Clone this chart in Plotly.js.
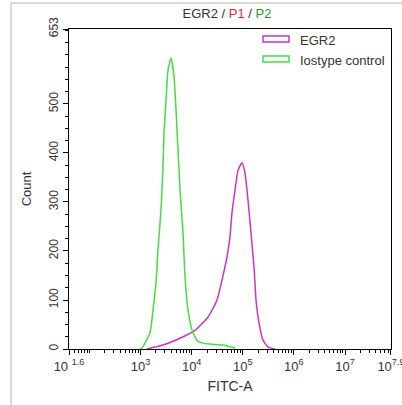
<!DOCTYPE html>
<html><head><meta charset="utf-8">
<script src="https://cdn.plot.ly/plotly-3.0.1.min.js"></script>
<style>html,body{margin:0;padding:0;background:#fff;}#plot{width:402px;height:405px;}</style>
</head><body><div id="plot"></div>
<script>
// Log10 of FITC-A and counts
const greenLog = [2.989,3.022,3.185,3.244,3.302,3.341,3.400,3.439,3.459,3.498,3.537,3.596,3.655,3.694,3.733,3.772,3.830,3.870,3.928,4.007,4.104,4.222,4.359,4.613,4.848];
const greenCount = [0,1,33,80,135,202,284,371,441,508,569,594,555,488,406,324,237,147,80,39,18,12,10,8,2];
const egrLog = [3.126,3.439,3.772,4.065,4.320,4.496,4.594,4.691,4.750,4.789,4.848,4.907,4.985,5.044,5.102,5.161,5.220,5.259,5.318,5.396,5.494,5.631];
const egrCount = [0,8,22,38,65,100,141,188,229,278,324,365,380,359,304,237,167,100,53,18,4,0];
const xTickExp = [1.6,3,4,5,6,7,7.899];
const xTickText = ['10 <sup>1.6</sup>','10<sup>3</sup>','10<sup>4</sup>','10<sup>5</sup>','10<sup>6</sup>','10<sup>7</sup>','10<sup>7.9</sup>'];
const yTicks = [0,100,200,300,400,500,653];
const legendNames = ['EGR2','Iostype control'];
const magenta = '#cc33cc', green = '#44dd44';

const toX = a => a.map(v => Math.pow(10, v));
const traces = [
  {x: toX(egrLog), y: egrCount, mode:'lines', line:{color:magenta,width:1.5,shape:'spline',smoothing:0.5}, name:legendNames[0], showlegend:false},
  {x: toX(greenLog), y: greenCount, mode:'lines', line:{color:green,width:1.5,shape:'spline',smoothing:0.5}, name:legendNames[1], showlegend:false}
];
// plot area: l=69, r=391, t=29, b=349
const px = x => (x-69)/322, py = y => (349-y)/320;
const layout = {
  width:402, height:405, margin:{l:69,r:11,t:29,b:56},
  paper_bgcolor:'#fff', plot_bgcolor:'#fff',
  font:{family:'Liberation Sans, Arial, sans-serif', size:12, color:'#333'},
  title:{text:'EGR2 / <span style="color:#e03030">P1</span> / <span style="color:#2a9a2a">P2</span>', font:{size:13,color:'#333'}, xref:'paper', x:px(227), xanchor:'center', yref:'container', y:1-13/405, yanchor:'middle'},
  xaxis:{type:'log', range:[1.6,7.9], tickvals:toX(xTickExp), ticktext:xTickText, tickmode:'array', ticklabeloverflow:'allow',
    ticks:'outside', ticklen:5, tickcolor:'#000', showline:true, linecolor:'#000', linewidth:1, mirror:true,
    showgrid:false, zeroline:false, tickfont:{size:13,color:'#333'},
    minor:{ticks:'outside', ticklen:3, tickcolor:'#000', dtick:'D1', showgrid:false},
    title:{text:'FITC-A', font:{size:14,color:'#333'}, standoff:8}},
  yaxis:{range:[0,653], tickvals:yTicks, tickmode:'array', tickangle:-90,
    ticks:'outside', ticklen:5, tickcolor:'#000', showline:true, linecolor:'#000', linewidth:1, mirror:true,
    showgrid:false, zeroline:false, tickfont:{size:12,color:'#333'},
    minor:{ticks:'outside', ticklen:3, tickcolor:'#000', dtick:25, showgrid:false},
    title:{text:'Count', font:{size:13,color:'#333'}, standoff:12}},
  shapes:[
    {type:'rect', xref:'paper', yref:'paper', x0:px(11), x1:px(410), y0:py(412), y1:py(3), line:{color:'#d9d9d9',width:2}, fillcolor:'rgba(0,0,0,0)', layer:'below'},
    {type:'rect', xref:'paper', yref:'paper', x0:px(263), x1:px(289), y0:py(42), y1:py(36), line:{color:magenta,width:1.5}},
    {type:'rect', xref:'paper', yref:'paper', x0:px(263), x1:px(289), y0:py(62), y1:py(56), line:{color:green,width:1.5}}
  ],
  annotations:[
    {xref:'paper', yref:'paper', x:px(298), y:py(40), text:legendNames[0], showarrow:false, xanchor:'left', yanchor:'middle', font:{size:13,color:'#333'}},
    {xref:'paper', yref:'paper', x:px(298), y:py(60), text:legendNames[1], showarrow:false, xanchor:'left', yanchor:'middle', font:{size:13,color:'#333'}}
  ]
};
Plotly.newPlot('plot', traces, layout, {displayModeBar:false, staticPlot:true});
</script></body></html>
